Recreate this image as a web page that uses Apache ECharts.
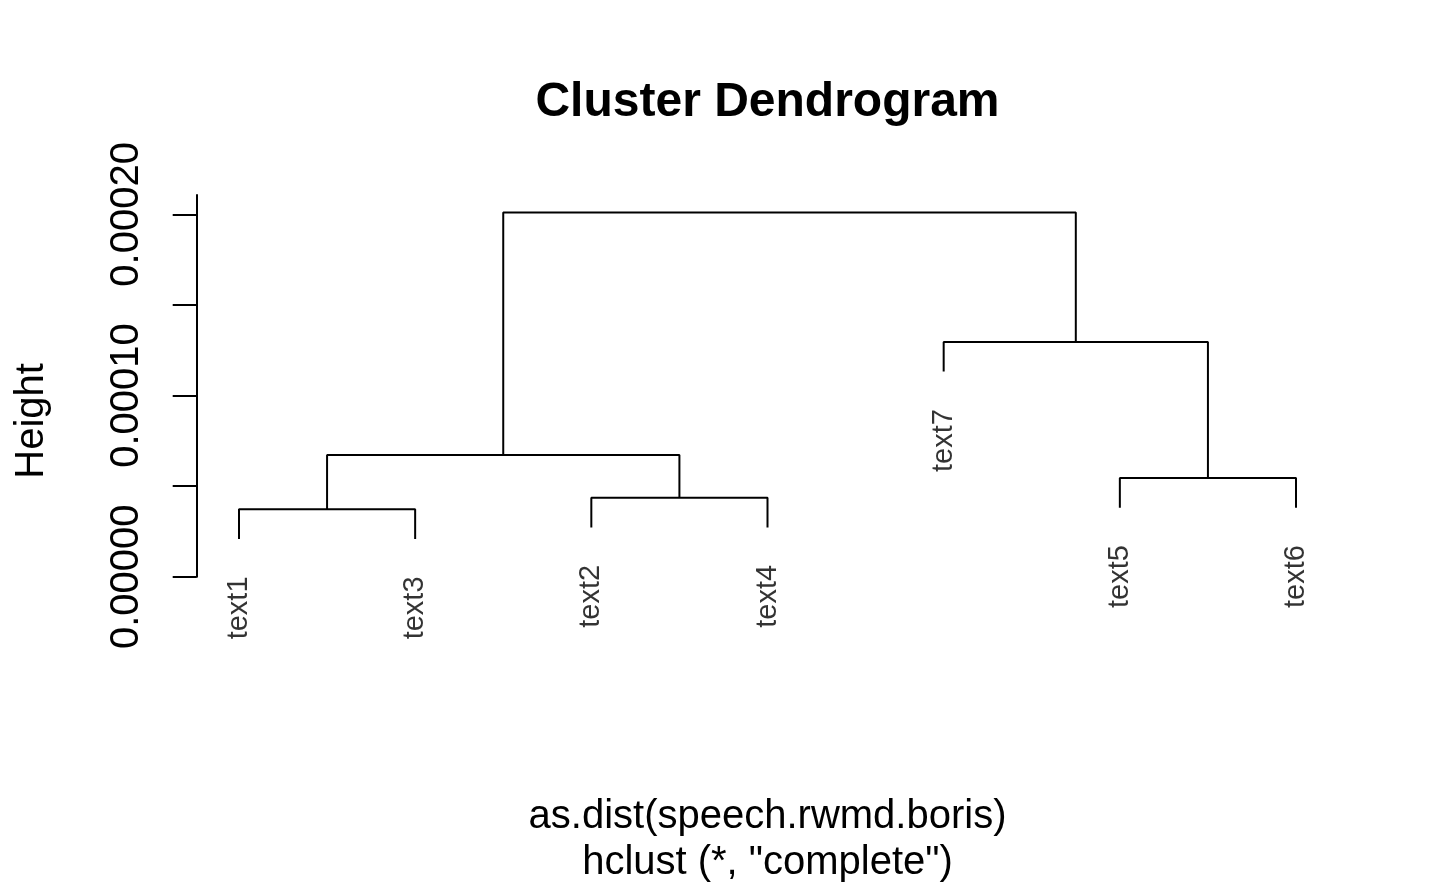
<!DOCTYPE html>
<html>
<head>
<meta charset="utf-8">
<script src="https://cdn.jsdelivr.net/npm/echarts@6/dist/echarts.min.js"></script>
<style>
html,body{margin:0;padding:0;background:#fff;}
#chart{width:1440px;height:889px;}
</style>
</head>
<body>
<div id="chart"></div>
<script>
// ---- data ----
const leafNames = ['text1', 'text2', 'text3', 'text4', 'text5', 'text6', 'text7'];
const leafOrder = [1, 3, 2, 4, 7, 5, 6];           // left-to-right order of leaves
// merges, R hclust style: negative = leaf id, positive = earlier merge index
const mergeLeft  = [-1, -2, 1, -5, -7, 3];
const mergeRight = [-3, -4, 2, -6, 4, 5];
const mergeHeight = [0.0000372, 0.0000436, 0.0000672, 0.0000545, 0.0001296, 0.0002010];
const yTicks = [0, 0.00005, 0.0001, 0.00015, 0.0002];
const yTickLabels = [0, 0.0001, 0.0002];
const titleText = 'Cluster Dendrogram';
const xLabel = 'as.dist(speech.rwmd.boris)';
const subLabel = 'hclust (*, "complete")';
const yLabel = 'Height';
const hang = 0.1;

// ---- build tree geometry in data space ----
const FONT = "'Liberation Sans', Arial, Helvetica, sans-serif";
const hMax = Math.max(...mergeHeight), hMin = Math.min(...mergeHeight);
const hangH = hang * (hMax - hMin);
const rank = {};
leafOrder.forEach((id, i) => { rank[id] = i + 1; });
const mergeX = [];
const lineSeries = [];
const leafPoints = [];
function child(c, h) {
  if (c < 0) {
    const x = rank[-c], y = h - hangH;
    leafPoints.push([x, y, leafNames[-c - 1]]);
    return [x, y];
  }
  return [mergeX[c - 1], mergeHeight[c - 1]];
}
for (let i = 0; i < mergeHeight.length; i++) {
  const h = mergeHeight[i];
  const a = child(mergeLeft[i], h);
  const b = child(mergeRight[i], h);
  mergeX[i] = (a[0] + b[0]) / 2;
  lineSeries.push({
    type: 'line',
    data: [[a[0], a[1]], [a[0], h], [b[0], h], [b[0], b[1]]],
    symbol: 'none',
    silent: true,
    animation: false,
    lineStyle: { color: '#000', width: 2 }
  });
}

const chart = echarts.init(document.getElementById('chart'), null, { renderer: 'canvas' });
chart.setOption({
  backgroundColor: '#fff',
  animation: false,
  title: {
    text: titleText,
    left: 767.5,
    top: 79,
    padding: 0,
    textAlign: 'center',
    textStyle: { fontFamily: FONT, fontSize: 48, fontWeight: 'bold', color: '#000', lineHeight: 48 }
  },
  grid: { left: 196.7, right: 101.7, top: 195, bottom: 312.3, containLabel: false },
  xAxis: {
    type: 'value', min: 0.76, max: 7.24,
    axisLine: { show: false }, axisTick: { show: false }, axisLabel: { show: false }, splitLine: { show: false },
    name: xLabel + '\n' + subLabel,
    nameLocation: 'middle',
    nameGap: 217,
    nameTextStyle: { fontFamily: FONT, fontSize: 40, color: '#000', lineHeight: 46 }
  },
  yAxis: {
    type: 'value', min: 0, max: 0.0002107, interval: 0.00005,
    axisLine: { show: true, lineStyle: { color: '#000', width: 2 } },
    axisTick: { show: true, length: 24, lineStyle: { color: '#000', width: 2 }, customValues: yTicks },
    axisLabel: {
      show: true, rotate: 90, margin: 50, customValues: yTickLabels,
      formatter: v => Number(v).toFixed(5),
      fontFamily: FONT, fontSize: 40, color: '#000'
    },
    splitLine: { show: false },
    name: yLabel,
    nameLocation: 'middle',
    nameRotate: 90,
    nameGap: 145,
    nameTextStyle: { fontFamily: FONT, fontSize: 40, color: '#000', padding: [0, 70, 0, 0] }
  },
  series: lineSeries.concat([{
    type: 'scatter',
    data: leafPoints,
    symbolSize: 1,
    itemStyle: { color: 'rgba(0,0,0,0)' },
    silent: true,
    label: {
      show: true,
      position: 'bottom',
      distance: 34,
      rotate: 90,
      align: 'right',
      verticalAlign: 'middle',
      offset: [-3, 0],
      formatter: p => p.data[2],
      fontFamily: FONT, fontSize: 29, color: '#000'
    }
  }])
});
</script>
</body>
</html>
